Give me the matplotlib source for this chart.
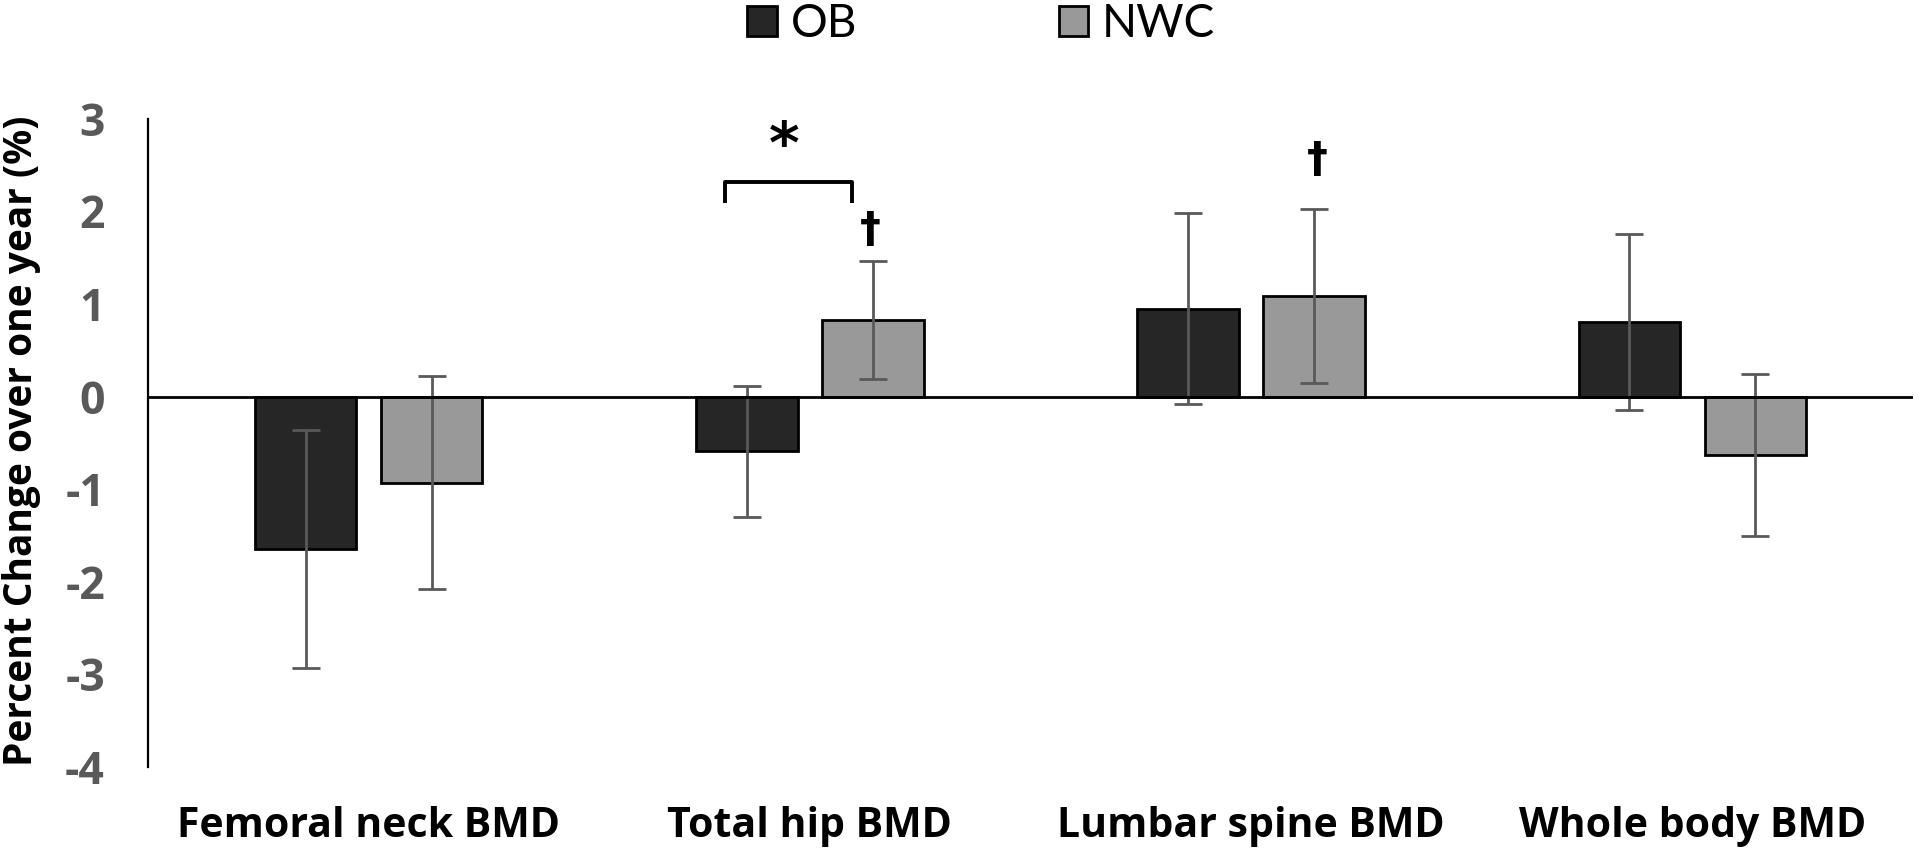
import matplotlib
matplotlib.use("Agg")
import matplotlib.pyplot as plt
import numpy as np
from matplotlib.patches import Patch

categories = ["Femoral neck BMD", "Total hip BMD", "Lumbar spine BMD", "Whole body BMD"]
ob_values = [-1.645, -0.59, 0.95, 0.81]
ob_errors = [1.285, 0.71, 1.03, 0.95]
nwc_values = [-0.93, 0.83, 1.09, -0.63]
nwc_errors = [1.15, 0.64, 0.94, 0.87]
yticks = [-4, -3, -2, -1, 0, 1, 2, 3]

plt.rcParams['font.family'] = ['Open Sans', 'DejaVu Sans']

fig = plt.figure(figsize=(19.2, 8.59), dpi=100)
ax = fig.add_axes([0.07708, 0.1070, 0.91927, 0.7546])

x = np.arange(len(categories))
bw = 0.23
off = 0.143
ob_color = "#262626"
nwc_color = "#999999"
err_kw = dict(ecolor="#595959", elinewidth=2.0, capsize=10, capthick=2.0)

ax.bar(x - off, ob_values, bw, color=ob_color, edgecolor="black", linewidth=2.0,
       yerr=ob_errors, error_kw=err_kw, zorder=2)
ax.bar(x + off, nwc_values, bw, color=nwc_color, edgecolor="black", linewidth=2.0,
       yerr=nwc_errors, error_kw=err_kw, zorder=2)

ax.axhline(0, color="black", linewidth=2.0, zorder=3)

ax.set_xlim(-0.5, 3.5)
ax.set_ylim(-4, 3)
ax.set_yticks(yticks)
ax.set_yticklabels([str(v) for v in yticks])
ax.set_xticks(x)
ax.set_xticklabels(categories)
for s in ["top", "right", "bottom"]:
    ax.spines[s].set_visible(False)
ax.spines["left"].set_linewidth(1.6)
ax.tick_params(axis="y", length=0, pad=31, labelsize=32, labelcolor="#595959")
ax.tick_params(axis="x", length=0, pad=28, labelsize=29.5, labelcolor="black")
for lab in ax.get_yticklabels() + ax.get_xticklabels():
    lab.set_fontweight("bold")

fig.text(22 / 1920, 0.487, "Percent Change over one year (%)", rotation=90,
         ha="center", va="center", fontsize=28, fontweight="bold")

# significance annotations
bx0, bx1, by0, by1 = 0.807, 1.0945, 2.095, 2.32
ax.plot([bx0, bx0, bx1, bx1], [by0, by1, by1, by0], color="black", linewidth=2.8,
        solid_joinstyle="round", solid_capstyle="butt")
ax.text(0.941, 2.70, "*", ha="center", va="center", fontsize=42, fontweight="bold",
        family="DejaVu Sans")
ax.text(1.136, 1.80, "†", ha="center", va="center", fontsize=30, fontweight="bold",
        family="DejaVu Sans")
ax.text(2.150, 2.555, "†", ha="center", va="center", fontsize=30, fontweight="bold",
        family="DejaVu Sans")

handles = [Patch(facecolor=ob_color, edgecolor="black", linewidth=2.0, label="OB"),
           Patch(facecolor=nwc_color, edgecolor="black", linewidth=2.0, label="NWC")]
fig.legend(handles=handles, loc="center", bbox_to_anchor=(0.511, 0.972), ncol=2,
           frameon=False, prop={"family": "Lato", "size": 33}, handlelength=0.65,
           handleheight=0.65, handletextpad=0.3, columnspacing=4.4, borderpad=0)

fig.savefig("out.png", dpi=100)
